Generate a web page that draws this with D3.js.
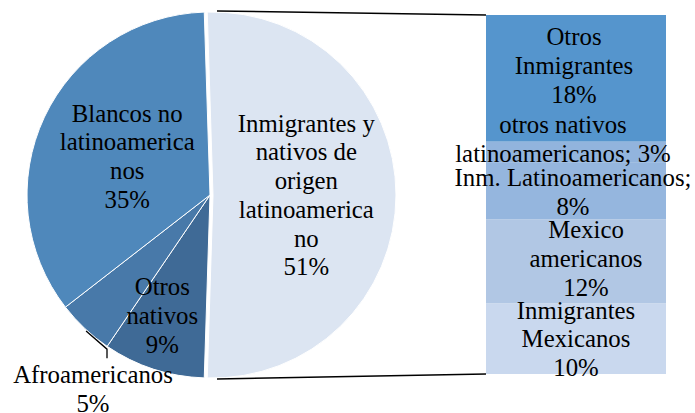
<!DOCTYPE html>
<html>
<head>
<meta charset="utf-8">
<script src="https://cdn.jsdelivr.net/npm/d3@7"></script>
<style>
  body { margin: 0; background: #fff; }
  svg { display: block; }
</style>
</head>
<body>
<svg id="chart" width="695" height="413"></svg>
<script>
"use strict";

// pie slices (first one is split out into the bar)
const pieNames = ["Inmigrantes y nativos de origen latinoamericano", "Otros nativos", "Afroamericanos", "Blancos no latinoamericanos"];
const pieValues = [51, 9, 5, 35];
const pieLabelLines = [
  ["Inmigrantes y", "nativos de", "origen", "latinoamerica", "no", "51%"],
  ["Otros", "nativos", "9%"],
  ["Afroamericanos", "5%"],
  ["Blancos no", "latinoamerica", "nos", "35%"]
];

// bar segments, top to bottom
const barNames = ["Otros Inmigrantes", "otros nativos latinoamericanos", "Inm. Latinoamericanos", "Mexico americanos", "Inmigrantes Mexicanos"];
const barValues = [18, 3, 8, 12, 10];
const barLabelLines = [
  ["Otros", "Inmigrantes", "18%"],
  ["otros nativos ", "latinoamericanos; 3%"],
  ["Inm. Latinoamericanos;", "8%"],
  ["Mexico", "americanos", "12%"],
  ["Inmigrantes", "Mexicanos", "10%"]
];

const pieColors = ["#dce5f2", "#3f6a96", "#4879a9", "#4f88bb"];
const barColors = ["#5595cd", "#92b4dd", "#95b6de", "#b1c7e4", "#c9d8ee"];

const FONT = '"Liberation Serif", serif';
const svg = d3.select("#chart");
const lineH = 28.7;

// size the font so the widest label matches the reference width
let fontSize = 24.7;
const probe = svg.append("text")
  .style("font-family", FONT).style("font-size", "100px")
  .text("Inm. Latinoamericanos;");
const probeW = probe.node().getComputedTextLength();
probe.remove();
if (probeW > 0) fontSize = Math.max(20, Math.min(25.5, 237 / probeW * 100));

const cx = 210, cy = 195, r = 183, explode = 3;

const total = d3.sum(pieValues);
const splitShare = pieValues[0] / total;
const start = Math.PI / 2 - splitShare * Math.PI;

const pie = d3.pie().sort(null).startAngle(start).endAngle(start + 2 * Math.PI);
const arcs = pie(pieValues);
const arc = d3.arc().innerRadius(0).outerRadius(r);

// per-slice label placement (radius fraction, x/y nudge)
const pieLabelPos = [
  { k: 0.51, dx: 0, dy: 0 },
  { k: 0.72, dx: -7, dy: -5 },
  { k: null, x: 93, y: 389 },
  { k: 0.50, dx: 0, dy: 0 }
];

function polar(a, rad) {
  return [Math.sin(a) * rad, -Math.cos(a) * rad];
}

const gPie = svg.append("g").attr("transform", `translate(${cx},${cy})`);

gPie.selectAll("path")
  .data(arcs)
  .join("path")
  .attr("d", arc)
  .attr("transform", (d, i) => i === 0 ? `translate(${explode},0)` : null)
  .attr("fill", (d, i) => pieColors[i])
  .attr("stroke", "#fff")
  .attr("stroke-width", 1);

// one <text> per line, each with its own font settings
function drawBlock(g, lines, x, yMid) {
  const first = yMid - (lines.length - 1) * lineH / 2 + 8.5;
  lines.forEach((s, j) => {
    g.append("text")
      .attr("x", x)
      .attr("y", first + j * lineH)
      .attr("text-anchor", "middle")
      .style("font-family", FONT)
      .style("font-size", fontSize + "px")
      .style("fill", "#000")
      .text(s);
  });
  return first;
}

arcs.forEach((d, i) => {
  const p = pieLabelPos[i];
  if (p.k === null) {
    const first = drawBlock(svg, pieLabelLines[i], p.x, p.y);
    // leader from slice edge to label
    const mid = (d.startAngle + d.endAngle) / 2;
    const e = polar(mid - 0.015, r + 1);
    const x1 = p.x + 14, y2 = first - 25;
    svg.append("path")
      .attr("d", d3.line()([[cx + e[0], cy + e[1]], [x1, y2 - 9], [x1, y2]]))
      .attr("fill", "none")
      .attr("stroke", "#000")
      .attr("stroke-width", 1.3);
  } else {
    const mid = (d.startAngle + d.endAngle) / 2;
    const c = polar(mid, p.k * r);
    const ox = i === 0 ? explode : 0;
    drawBlock(gPie, pieLabelLines[i], c[0] + ox + p.dx, c[1] + p.dy);
  }
});

// bar of the split slice
const x = d3.scaleBand().domain(["bar"]).range([486, 666]).padding(0);
const y = d3.scaleLinear().domain([0, pieValues[0]]).range([15, 374]);

const stacked = [];
let acc = 0;
barValues.forEach((v, i) => {
  stacked.push({ i: i, y0: acc, y1: acc + v });
  acc += v;
});

const gBar = svg.append("g");
gBar.selectAll("rect")
  .data(stacked)
  .join("rect")
  .attr("x", x("bar"))
  .attr("width", x.bandwidth())
  .attr("y", d => y(d.y0))
  .attr("height", d => y(d.y1) - y(d.y0))
  .attr("fill", d => barColors[d.i]);

const barLabelNudge = [
  { dx: -2, dy: -13 },
  { dx: -13, dy: -13 },
  { dx: -3, dy: 1 },
  { dx: 10, dy: -3 },
  { dx: 0, dy: 0 }
];

stacked.forEach(d => {
  const n = barLabelNudge[d.i];
  const xm = x("bar") + x.bandwidth() / 2;
  drawBlock(gBar, barLabelLines[d.i], xm + n.dx, (y(d.y0) + y(d.y1)) / 2 + n.dy);
});

// connector lines from the exploded slice to the bar
const topPt = [cx + explode + 4, cy - r - 1];
const botPt = [cx + explode + 4, cy + r + 1];
svg.append("line")
  .attr("x1", topPt[0]).attr("y1", topPt[1])
  .attr("x2", x("bar")).attr("y2", y(0))
  .attr("stroke", "#000").attr("stroke-width", 1.5);
svg.append("line")
  .attr("x1", botPt[0]).attr("y1", botPt[1])
  .attr("x2", x("bar")).attr("y2", y(pieValues[0]))
  .attr("stroke", "#000").attr("stroke-width", 1.5);
</script>
</body>
</html>
